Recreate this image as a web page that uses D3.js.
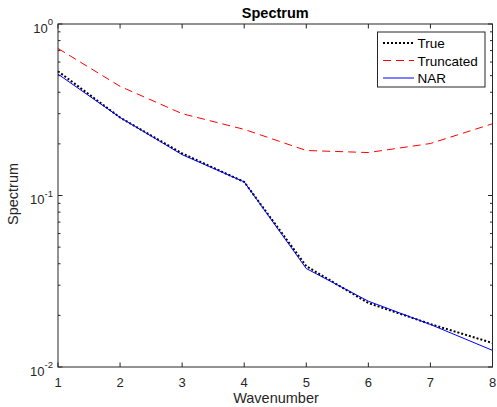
<!DOCTYPE html>
<html lang="en">
<head>
    <meta charset="UTF-8">
    <script src="https://cdn.jsdelivr.net/npm/d3@7"></script>
    <style>
        body{margin:0;background:#fff;}
        svg text{font-family:"Liberation Sans",Arial,sans-serif;fill:#262626;}
    </style>
    <title>Spectrum</title>
</head>
<body>
    <script>
        var wavenumber = [1,2,3,4,5,6,7,8];
        var trueSpec = [0.53,0.285,0.176,0.12,0.0387,0.0236,0.0178,0.0138];
        var truncated = [0.72,0.433,0.30,0.243,0.183,0.178,0.201,0.262];
        var nar = [0.51,0.285,0.173,0.12,0.0375,0.0242,0.0177,0.0125];
        var xTicks = [1,2,3,4,5,6,7,8];
        var yTicks = [-2,-1,0];

        var W = 497, H = 407;
        // note: "top" is reserved on window, so use plotTop etc.
        var plotLeft = 58, plotRight = 492.5, plotTop = 24, plotBottom = 367;
        var axisColor = "#262626";

        var svg = d3.select("body").append("svg")
            .attr("width",W).attr("height",H);

        var x = d3.scaleLinear().domain([1,8]).range([plotLeft,plotRight]);
        var y = d3.scaleLog().domain([0.01,1]).range([plotBottom,plotTop]);

        // minor ticks for log axis
        var minor = [];
        [0.01,0.1].forEach(function(b){
            for(var k=2;k<=9;k++) minor.push(b*k);
        });

        var g = svg.append("g");
        // x ticks bottom and top
        xTicks.forEach(function(t){
            g.append("line").attr("x1",x(t)).attr("x2",x(t))
                .attr("y1",plotBottom).attr("y2",plotBottom-4.5)
                .attr("stroke",axisColor);
            g.append("line").attr("x1",x(t)).attr("x2",x(t))
                .attr("y1",plotTop).attr("y2",plotTop+4.5)
                .attr("stroke",axisColor);
            g.append("text").attr("x",x(t)).attr("y",plotBottom+19.5)
                .attr("text-anchor","middle").attr("font-size",13)
                .text(t);
        });
        yTicks.forEach(function(e){
            var v = Math.pow(10,e);
            g.append("line").attr("x1",plotLeft).attr("x2",plotLeft+4.5)
                .attr("y1",y(v)).attr("y2",y(v)).attr("stroke",axisColor);
            g.append("line").attr("x1",plotRight).attr("x2",plotRight-4.5)
                .attr("y1",y(v)).attr("y2",y(v)).attr("stroke",axisColor);
            var t = g.append("text").attr("x",plotLeft-5).attr("y",y(v)+8.5)
                .attr("text-anchor","end").attr("font-size",13);
            t.append("tspan").text("10");
            t.append("tspan").attr("dy",-7.5).attr("font-size",9.5).text(e);
        });
        minor.forEach(function(v){
            g.append("line").attr("x1",plotLeft).attr("x2",plotLeft+2.5)
                .attr("y1",y(v)).attr("y2",y(v)).attr("stroke",axisColor);
            g.append("line").attr("x1",plotRight).attr("x2",plotRight-2.5)
                .attr("y1",y(v)).attr("y2",y(v)).attr("stroke",axisColor);
        });

        // lines
        var line = function(vals){
            return d3.line()
                .x(function(d,i){return x(wavenumber[i]);})
                .y(function(d){return y(d);})(vals);
        };
        svg.append("path").attr("d",line(truncated))
            .attr("fill","none").attr("stroke","#ff0000")
            .attr("stroke-width",1).attr("stroke-dasharray","8,5");
        svg.append("path").attr("d",line(trueSpec))
            .attr("fill","none").attr("stroke","#000")
            .attr("stroke-width",2).attr("stroke-dasharray","2,2");
        svg.append("path").attr("d",line(nar))
            .attr("fill","none").attr("stroke","#0000ff")
            .attr("stroke-width",1);

        // box
        svg.append("rect").attr("x",plotLeft).attr("y",plotTop)
            .attr("width",plotRight-plotLeft).attr("height",plotBottom-plotTop)
            .attr("fill","none").attr("stroke",axisColor);

        // title and labels
        svg.append("text").attr("x",(plotLeft+plotRight)/2).attr("y",17.5)
            .attr("text-anchor","middle").attr("font-size",14.5)
            .attr("font-weight","bold").style("fill","#000").text("Spectrum");
        svg.append("text").attr("x",276).attr("y",403)
            .attr("text-anchor","middle").attr("font-size",14.5)
            .text("Wavenumber");
        svg.append("text")
            .attr("transform","translate(17.5,194) rotate(-90)")
            .attr("text-anchor","middle").attr("font-size",14.5)
            .text("Spectrum");

        // legend
        var names = ["True","Truncated","NAR"];
        var colors = ["#000","#ff0000","#0000ff"];
        var dashes = ["2,2","8,5",null];
        var widths = [2,1,1];
        var lg = svg.append("g");
        lg.append("rect").attr("x",377.5).attr("y",32)
            .attr("width",107.5).attr("height",55)
            .attr("fill","#fff").attr("stroke",axisColor);
        names.forEach(function(n,i){
            var yy = 43 + i*17.5;
            lg.append("line").attr("x1",383).attr("x2",414)
                .attr("y1",yy).attr("y2",yy)
                .attr("stroke",colors[i]).attr("stroke-width",widths[i])
                .attr("stroke-dasharray",dashes[i]);
            lg.append("text").attr("x",417.5).attr("y",yy+5)
                .attr("font-size",13.5).style("fill","#000").text(n);
        });
    </script>
</body>
</html>
